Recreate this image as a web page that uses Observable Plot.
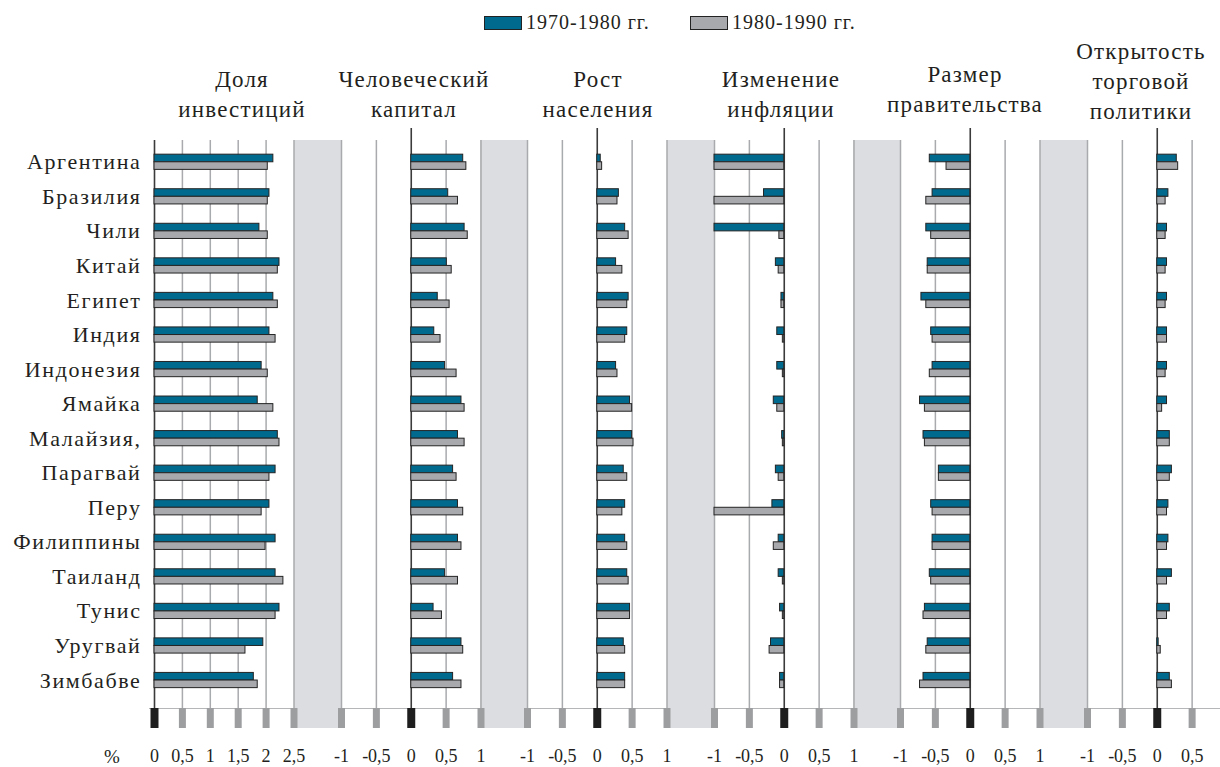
<!DOCTYPE html>
<html><head><meta charset="utf-8">
<script src="https://cdn.jsdelivr.net/npm/d3@7"></script>
<script src="https://cdn.jsdelivr.net/npm/@observablehq/plot@0.6"></script>
<style>
html,body{margin:0;padding:0;background:#fff;overflow:hidden;}
#chart{position:relative;width:1220px;height:767px;overflow:hidden;font-family:"Liberation Serif",serif;color:#231f20;}
.band{position:absolute;background:#dcdde0;z-index:1;}
.hline{position:absolute;height:1px;background:#b5b6b8;z-index:0;}
.title{position:absolute;width:240px;text-align:center;font-size:23px;line-height:30px;letter-spacing:1.2px;white-space:pre;}
.pl{position:absolute;top:0;z-index:2;}
.leg-sw{position:absolute;box-sizing:border-box;border:1px solid #222;}
.leg-tx{position:absolute;font-size:20px;letter-spacing:1px;white-space:nowrap;line-height:24px;}
#chart svg g[aria-label="y-axis tick label"] text{letter-spacing:1.6px;}
</style></head><body><div id="chart"></div>
<script>
// ---------- data ----------
const countries = ["Аргентина","Бразилия","Чили","Китай","Египет","Индия","Индонезия","Ямайка","Малайзия,","Парагвай","Перу","Филиппины","Таиланд","Тунис","Уругвай","Зимбабве"];
const seriesNames = ["1970-1980 гг.","1980-1990 гг."];
const panelTitles = ["Доля\nинвестиций","Человеческий\nкапитал","Рост\nнаселения","Изменение\nинфляции","Размер\nправительства","Открытость\nторговой\nполитики"];
const invest7080 = [2.13,2.06,1.88,2.24,2.13,2.06,1.92,1.85,2.21,2.17,2.06,2.17,2.17,2.24,1.95,1.78];
const invest8090 = [2.03,2.03,2.03,2.21,2.21,2.17,2.03,2.13,2.24,2.06,1.92,1.99,2.31,2.17,1.63,1.85];
const human7080 = [0.745,0.53,0.765,0.51,0.38,0.33,0.485,0.72,0.67,0.60,0.67,0.67,0.485,0.32,0.72,0.60];
const human8090 = [0.79,0.67,0.81,0.58,0.55,0.42,0.65,0.765,0.765,0.65,0.745,0.72,0.67,0.44,0.745,0.72];
const pop7080 = [0.05,0.31,0.40,0.27,0.45,0.43,0.27,0.47,0.50,0.38,0.40,0.40,0.43,0.47,0.38,0.40];
const pop8090 = [0.07,0.29,0.45,0.36,0.43,0.40,0.29,0.50,0.52,0.43,0.36,0.43,0.45,0.47,0.40,0.40];
const infl7080 = [-1,-0.29,-1,-0.12,-0.04,-0.10,-0.10,-0.15,-0.03,-0.12,-0.17,-0.08,-0.08,-0.06,-0.19,-0.06];
const infl8090 = [-1,-1,-0.07,-0.08,-0.04,-0.02,-0.02,-0.10,-0.02,-0.08,-1,-0.15,-0.02,-0.02,-0.21,-0.06];
const gov7080 = [-0.58,-0.54,-0.63,-0.61,-0.70,-0.56,-0.54,-0.72,-0.67,-0.45,-0.56,-0.54,-0.58,-0.65,-0.61,-0.67];
const gov8090 = [-0.34,-0.63,-0.56,-0.61,-0.63,-0.54,-0.58,-0.65,-0.65,-0.45,-0.54,-0.54,-0.56,-0.67,-0.63,-0.72];
const trade7080 = [0.28,0.16,0.14,0.14,0.14,0.14,0.14,0.14,0.18,0.21,0.16,0.16,0.21,0.18,0.02,0.18];
const trade8090 = [0.30,0.12,0.12,0.12,0.12,0.14,0.12,0.07,0.18,0.18,0.14,0.14,0.14,0.14,0.05,0.21];
const ticksInvest = [0,0.5,1,1.5,2,2.5];
const ticksOther = [-1,-0.5,0,0.5,1];
const ticksTrade = [-1,-0.5,0,0.5];
const unitLabel = "%";

// ---------- layout & style ----------
const L = {x0:154, pw:139.5, gap:47, top:140, axisY:708, H:767, W:1220, tickLen:20, yRange:[144.5, 697.3]};
const COL = {a:"#006a8e", b:"#a8a9ad", barStroke:"#242424", grid:"#a9aaad", zero:"#3b3b3b", tick:"#9d9ea0", tick0:"#1e1e1e", text:"#231f20"};
const titleCenters = [242, 414, 598, 781, 965, 1141];
const titleTops = [65, 65, 65, 65, 60, 37];

const panels = [
  {title:panelTitles[0], a:invest7080, b:invest8090, domain:[0,2.5], ticks:ticksInvest},
  {title:panelTitles[1], a:human7080, b:human8090, domain:[-1,1], ticks:ticksOther},
  {title:panelTitles[2], a:pop7080, b:pop8090, domain:[-1,1], ticks:ticksOther},
  {title:panelTitles[3], a:infl7080, b:infl8090, domain:[-1,1], ticks:ticksOther},
  {title:panelTitles[4], a:gov7080, b:gov8090, domain:[-1,1], ticks:ticksOther},
  {title:panelTitles[5], a:trade7080, b:trade8090, domain:[-1,1], ticks:ticksTrade}
];

const chart = document.getElementById("chart");
const fmt = d => String(d).replace(".", ",");

// horizontal axis line
const hl = document.createElement("div");
hl.className = "hline";
hl.style.left = "149px"; hl.style.width = (L.W - 149) + "px"; hl.style.top = (L.axisY - 0.5) + "px";
chart.appendChild(hl);

// gray separator bands
for (let i = 1; i < panels.length; i++) {
  const b = document.createElement("div");
  b.className = "band";
  const x = L.x0 + i*(L.pw + L.gap) - L.gap;
  b.style.left = x + "px"; b.style.width = L.gap + "px";
  b.style.top = L.top + "px"; b.style.height = (L.axisY + L.tickLen - L.top) + "px";
  chart.appendChild(b);
}

// legend
const legX = [[484, 526], [690, 732]];
seriesNames.forEach((s, i) => {
  const sw = document.createElement("div");
  sw.className = "leg-sw";
  sw.style.left = legX[i][0] + "px"; sw.style.top = "16px"; sw.style.width = "38px"; sw.style.height = "14px";
  sw.style.background = i === 0 ? COL.a : COL.b;
  chart.appendChild(sw);
  const tx = document.createElement("div");
  tx.className = "leg-tx";
  tx.style.left = legX[i][1] + "px"; tx.style.top = "10px";
  tx.textContent = s;
  chart.appendChild(tx);
});

// panel titles
panels.forEach((p, i) => {
  const t = document.createElement("div");
  t.className = "title";
  t.style.left = (titleCenters[i] - 120) + "px";
  t.style.top = titleTops[i] + "px";
  t.textContent = p.title;
  chart.appendChild(t);
});

// percent label
const pc = document.createElement("div");
pc.style.cssText = "position:absolute;left:104px;top:745px;font-size:19px;line-height:24px;";
pc.textContent = unitLabel;
chart.appendChild(pc);

// panels
panels.forEach((p, i) => {
  const rows = countries.map((c, k) => ({country:c, a:p.a[k], b:p.b[k]}));
  const left = L.x0 + i*(L.pw + L.gap);
  const ml = i === 0 ? left : 30, mr = 30;
  const nz = p.ticks.filter(t => t !== 0);
  const grid = ticksOther.filter(t => t !== 0 && t >= p.domain[0] && t <= p.domain[1]);
  const axisCommon = {anchor:"bottom", tickSize:L.tickLen, tickPadding:21, tickFormat:fmt, fontSize:18, fill:COL.text, label:null};
  const marks = [
    Plot.ruleX(i === 0 ? nz : grid, {stroke:COL.grid, strokeWidth:1.5}),
    Plot.ruleX([0], {stroke:COL.zero, strokeWidth:1.6, insetTop: i === 0 ? 0 : -12}),
    Plot.barX(rows, {x:"a", y:"country", fill:COL.a, stroke:COL.barStroke, strokeWidth:1, insetBottom:7.6}),
    Plot.barX(rows, {x:"b", y:"country", fill:COL.b, stroke:COL.barStroke, strokeWidth:1, insetTop:7.6}),
    Plot.axisX(nz, {...axisCommon, stroke:COL.tick, strokeWidth:7}),
    Plot.axisX([0], {...axisCommon, stroke:COL.tick0, strokeWidth:8})
  ];
  if (i === 0) marks.push(Plot.axisY({anchor:"left", tickSize:0, tickPadding:13, fontSize:22, fill:COL.text, label:null}));
  const svg = Plot.plot({
    width: ml + L.pw + mr, height: L.H,
    marginLeft: ml, marginRight: mr, marginTop: L.top, marginBottom: L.H - L.axisY,
    style: {background:"transparent", overflow:"visible", fontFamily:"'Liberation Serif', serif", color:COL.text},
    x: {domain:p.domain, nice:false},
    y: {domain:countries, range:L.yRange, round:false, paddingInner:0.56, paddingOuter:0.28, axis: i === 0 ? undefined : null},
    marks
  });
  svg.classList.add("pl");
  svg.style.left = (left - ml) + "px";
  svg.style.position = "absolute";
  svg.style.top = "0px";
  svg.style.zIndex = 2;
  chart.appendChild(svg);
});
</script></body></html>
